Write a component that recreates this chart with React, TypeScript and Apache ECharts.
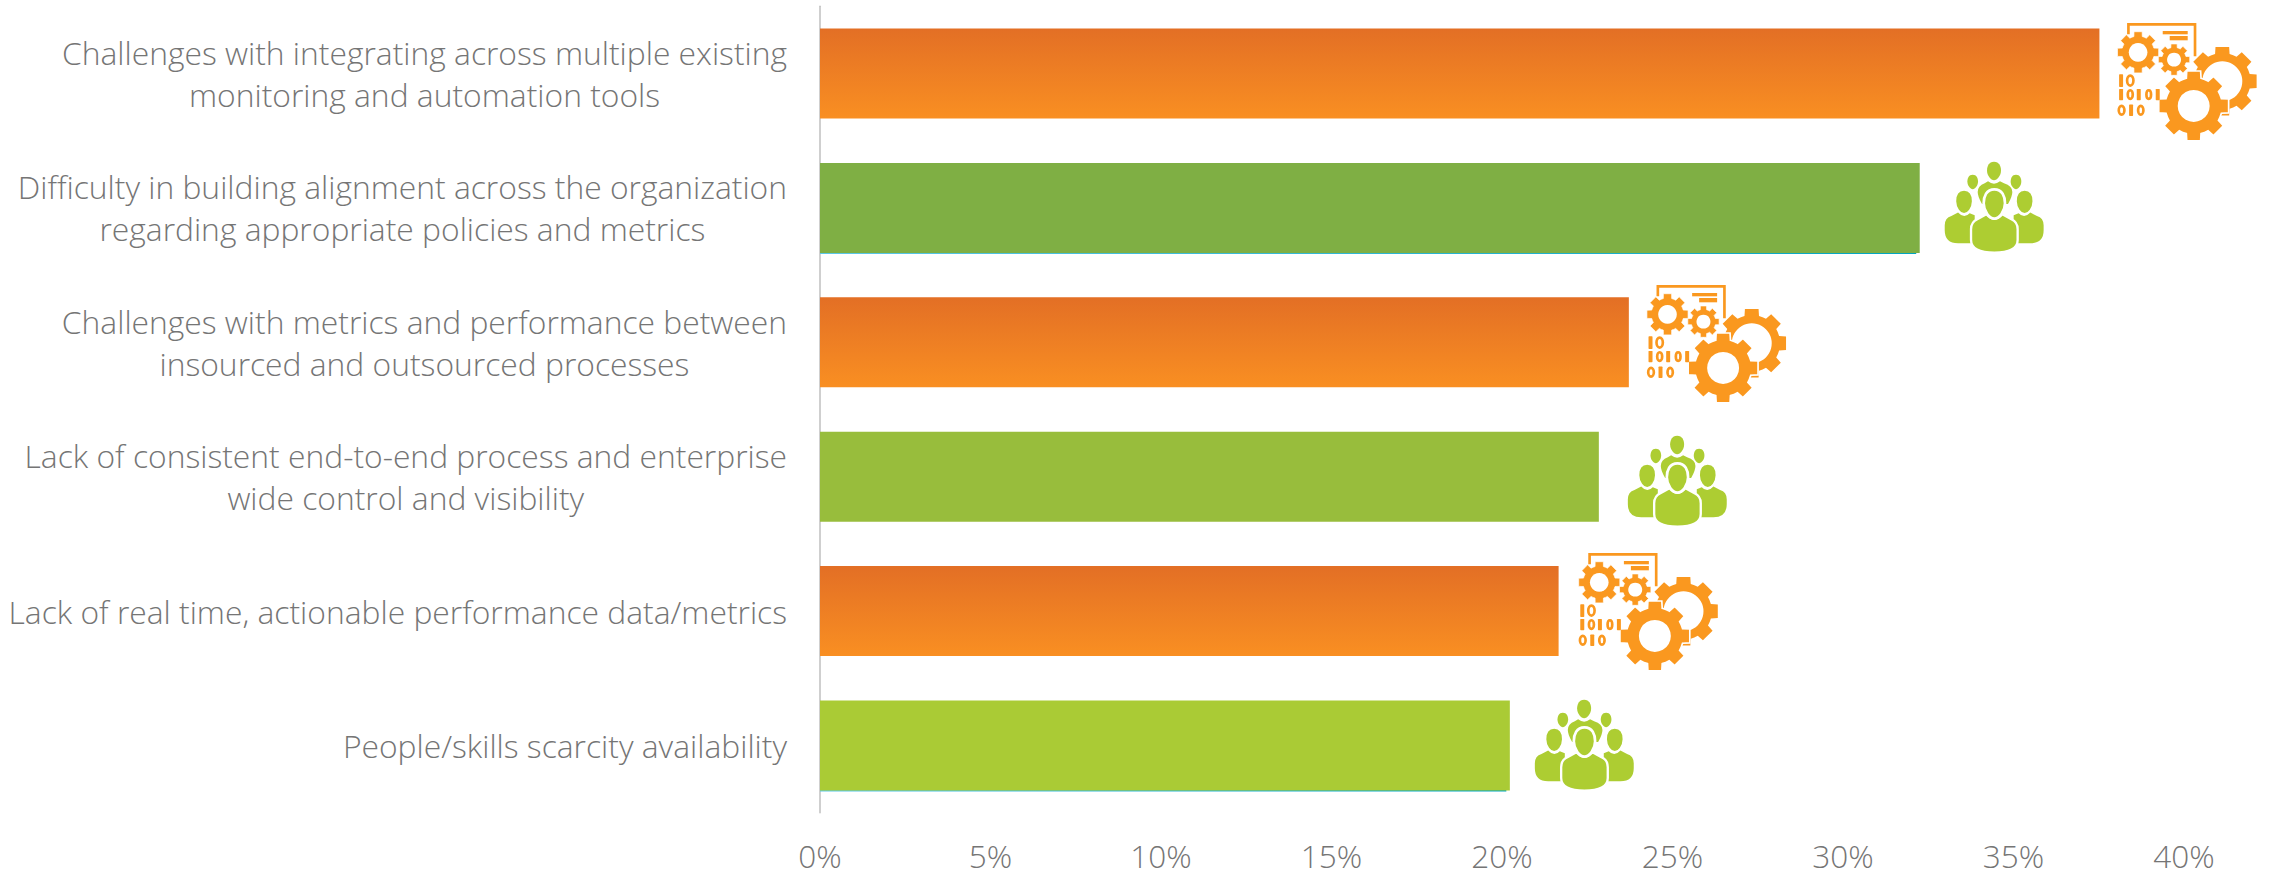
import React, { useEffect, useRef } from "react";
import * as echarts from "echarts";

const categories = [
  "Challenges with integrating across multiple existing\nmonitoring and automation tools",
  "Difficulty in building alignment across the organization\nregarding appropriate policies and metrics",
  "Challenges with metrics and performance between\ninsourced and outsourced processes",
  "Lack of consistent end-to-end process and enterprise\nwide control and visibility",
  "Lack of real time, actionable performance data/metrics",
  "People/skills scarcity availability",
];
const values = [37.52, 32.25, 23.72, 22.84, 21.66, 20.23];
const iconKinds = ["gear", "people", "gear", "people", "gear", "people"];
const underlined = [false, true, false, false, false, true];
const iconDx = [18, 25, 18, 29, 20, 25];
const iconDy = [-50.5, -45.9, -57.3, -40.7, -58.1, -45.5];

const ORANGE = "#FA981F";
const LIME = "#ADCD32";
const TEXT = "#757575";
const FONT = "'Open Sans', sans-serif";

const orangeFill = () =>
  new echarts.graphic.LinearGradient(0, 0, 0, 1, [
    { offset: 0, color: "#E36F25" },
    { offset: 1, color: "#F98F22" },
  ]);
const barFills = [orangeFill(), "#7FAF44", orangeFill(), "#98BD3C", orangeFill(), "#AACB35"];

function gearPath(cx: number, cy: number, R: number, r: number, teeth: number) {
  const step = (Math.PI * 2) / teeth;
  const halfTop = step * 0.25;
  const halfRoot = step * 0.33;
  let d = "";
  for (let i = 0; i < teeth; i++) {
    const a = -Math.PI / 2 + i * step;
    const pts = [
      [r, a - halfRoot],
      [R, a - halfTop],
      [R, a + halfTop],
      [r, a + halfRoot],
    ];
    pts.forEach(([rad, t], j) => {
      const x = (cx + rad * Math.cos(t)).toFixed(2);
      const y = (cy + rad * Math.sin(t)).toFixed(2);
      d += i === 0 && j === 0 ? `M${x} ${y}` : `L${x} ${y}`;
    });
    const next = a + step - halfRoot;
    d += `A${r} ${r} 0 0 1 ${(cx + r * Math.cos(next)).toFixed(2)} ${(cy + r * Math.sin(next)).toFixed(2)}`;
  }
  return d + "Z";
}

function headPath(cx: number, cy: number, rx: number, ry: number) {
  return (
    `M${cx} ${cy - ry}` +
    `C${cx + rx * 0.75} ${cy - ry} ${cx + rx} ${cy - ry * 0.5} ${cx + rx} ${cy - ry * 0.05}` +
    `C${cx + rx} ${cy + ry * 0.5} ${cx + rx * 0.45} ${cy + ry} ${cx} ${cy + ry}` +
    `C${cx - rx * 0.45} ${cy + ry} ${cx - rx} ${cy + ry * 0.5} ${cx - rx} ${cy - ry * 0.05}` +
    `C${cx - rx} ${cy - ry * 0.5} ${cx - rx * 0.75} ${cy - ry} ${cx} ${cy - ry}Z`
  );
}

const fillPath = (pathData: string, fill: string, stroke?: string, lineWidth?: number) => ({
  type: "path",
  shape: { pathData },
  style: { fill, stroke: stroke || "none", lineWidth: lineWidth || 0 },
});
const circle = (cx: number, cy: number, r: number, fill: string) => ({
  type: "circle",
  shape: { cx, cy, r },
  style: { fill },
});
const bit1 = (x: number, y: number, h: number) => ({
  type: "rect",
  shape: { x, y, width: 12, height: h, r: 2 },
  style: { fill: ORANGE },
});
const bit0 = (x: number, y: number, w: number, h: number) => ({
  type: "ellipse",
  shape: { cx: x + w / 2, cy: y + h / 2, rx: w / 2 - 4, ry: h / 2 - 4 },
  style: { fill: "none", stroke: ORANGE, lineWidth: 8 },
});

function gearIcon() {
  return [
    {
      type: "polyline",
      shape: { points: [[33, 34], [33, 4], [233, 4], [233, 100]] },
      style: { fill: "none", stroke: ORANGE, lineWidth: 8 },
    },
    { type: "rect", shape: { x: 136, y: 24, width: 75, height: 10 }, style: { fill: ORANGE } },
    { type: "rect", shape: { x: 157, y: 39, width: 54, height: 13 }, style: { fill: ORANGE } },
    fillPath(gearPath(62, 88, 63, 49, 8), ORANGE, "#fff", 2),
    circle(62, 88, 28, "#fff"),
    fillPath(gearPath(170, 110, 48, 37, 8), ORANGE, "#fff", 2),
    circle(170, 110, 21, "#fff"),
    fillPath(gearPath(315, 175, 105, 85, 8), ORANGE),
    circle(315, 175, 60, "#fff"),
    fillPath(gearPath(229, 249, 107, 86, 8), ORANGE, "#fff", 5),
    circle(229, 249, 48, "#fff"),
    bit1(5, 154, 38), bit0(25, 154, 27, 38),
    bit1(5, 198, 34), bit0(27, 198, 23, 34), bit1(58, 198, 34), bit0(83, 198, 22, 34), bit1(115, 198, 34),
    bit0(0, 245, 25, 34), bit1(35, 245, 34), bit0(58, 245, 24, 34),
  ];
}

const backBody = "M112 126Q99 104 99 90Q99 72 120 64L130 58Q148 72 166 58L178 64Q203 72 203 90Q203 104 190 126Z";
const leftBody = "M0 190Q0 168 20 162L40 152Q58 172 75 154L90 160L90 244L40 244Q0 244 0 205Z";
const rightBody = "M297 190Q297 168 277 162L257 152Q239 172 222 154L207 160L207 244L257 244Q297 244 297 205Z";
const frontBody = "M79 202Q79 180 98 172L125 157Q149 184 173 157L200 172Q219 180 219 202L219 234Q219 272 149 272Q79 272 79 234Z";

function peopleIcon() {
  return [
    fillPath(headPath(148, 27, 21, 28), LIME),
    fillPath(backBody, LIME),
    fillPath(headPath(84, 60, 16, 22), LIME),
    fillPath(headPath(214, 60, 16, 22), LIME),
    fillPath(leftBody, LIME),
    fillPath(rightBody, LIME),
    fillPath(headPath(58, 120, 26, 36), LIME, "#fff", 5),
    fillPath(headPath(240, 120, 26, 36), LIME, "#fff", 5),
    fillPath(frontBody, LIME, "#fff", 7),
    fillPath(headPath(149, 126, 32, 44), LIME, "#fff", 8),
  ];
}

function renderIcon(params: any, api: any) {
  const i = params.dataIndex;
  const [x, y] = api.coord([api.value(0), api.value(1)]);
  return {
    type: "group",
    x: x + iconDx[i],
    y: y + iconDy[i],
    scaleX: 1 / 3,
    scaleY: 1 / 3,
    children: iconKinds[i] === "gear" ? gearIcon() : peopleIcon(),
  };
}

function renderUnderline(params: any, api: any) {
  const i = params.dataIndex;
  if (!underlined[i]) return { type: "group", children: [] };
  const [x0, y] = api.coord([0, api.value(1)]);
  const [x1] = api.coord([api.value(0), api.value(1)]);
  return {
    type: "rect",
    shape: { x: x0, y: y + 44.5, width: x1 - x0 - 3.5, height: 1.6 },
    style: {
      fill: new echarts.graphic.LinearGradient(0, 0, 1, 0, [
        { offset: 0, color: "#5CC8E6" },
        { offset: 1, color: "#00A6BE" },
      ]),
    },
  };
}

export default function App() {
  const ref = useRef<HTMLDivElement>(null);
  useEffect(() => {
    const chart = echarts.init(ref.current!, null, { renderer: "svg" });
    const pairs = values.map((v, i) => [v, i]);
    chart.setOption({
      animation: false,
      backgroundColor: "#fff",
      grid: { left: 820, right: 89, top: 6.3, bottom: 63.3, containLabel: false },
      xAxis: {
        type: "value",
        min: 0,
        max: 40,
        interval: 5,
        axisLine: { show: false },
        axisTick: { show: false },
        splitLine: { show: false },
        axisLabel: {
          formatter: "{value}%",
          color: TEXT,
          fontFamily: FONT,
          fontWeight: 300,
          fontSize: 31.5,
          margin: 27,
          hideOverlap: false,
        },
      },
      yAxis: {
        type: "category",
        inverse: true,
        data: categories,
        axisLine: { show: true, lineStyle: { color: "#BFBFBF", width: 1.5 } },
        axisTick: { show: false },
        axisLabel: {
          interval: 0,
          margin: 33,
          align: "right",
          formatter: (v: string) =>
            v.split("\n").map((l) => `{a|${l}}`).join("\n"),
          rich: {
            a: {
              align: "center",
              color: TEXT,
              fontFamily: FONT,
              fontWeight: 300,
              fontSize: 31.8,
              lineHeight: 42,
            },
          },
        },
      },
      series: [
        {
          type: "bar",
          barWidth: 90,
          data: values.map((v, i) => ({ value: v, itemStyle: { color: barFills[i] } })),
          silent: true,
        },
        {
          type: "custom",
          renderItem: renderUnderline,
          data: pairs,
          encode: { x: 0, y: 1 },
          silent: true,
        },
        {
          type: "custom",
          renderItem: renderIcon,
          data: pairs,
          encode: { x: 0, y: 1 },
          silent: true,
        },
      ],
    });
    return () => chart.dispose();
  }, []);
  return (
    <div
      ref={ref}
      style={{ position: "absolute", left: 0, top: 0, width: 2273, height: 876 }}
    />
  );
}
